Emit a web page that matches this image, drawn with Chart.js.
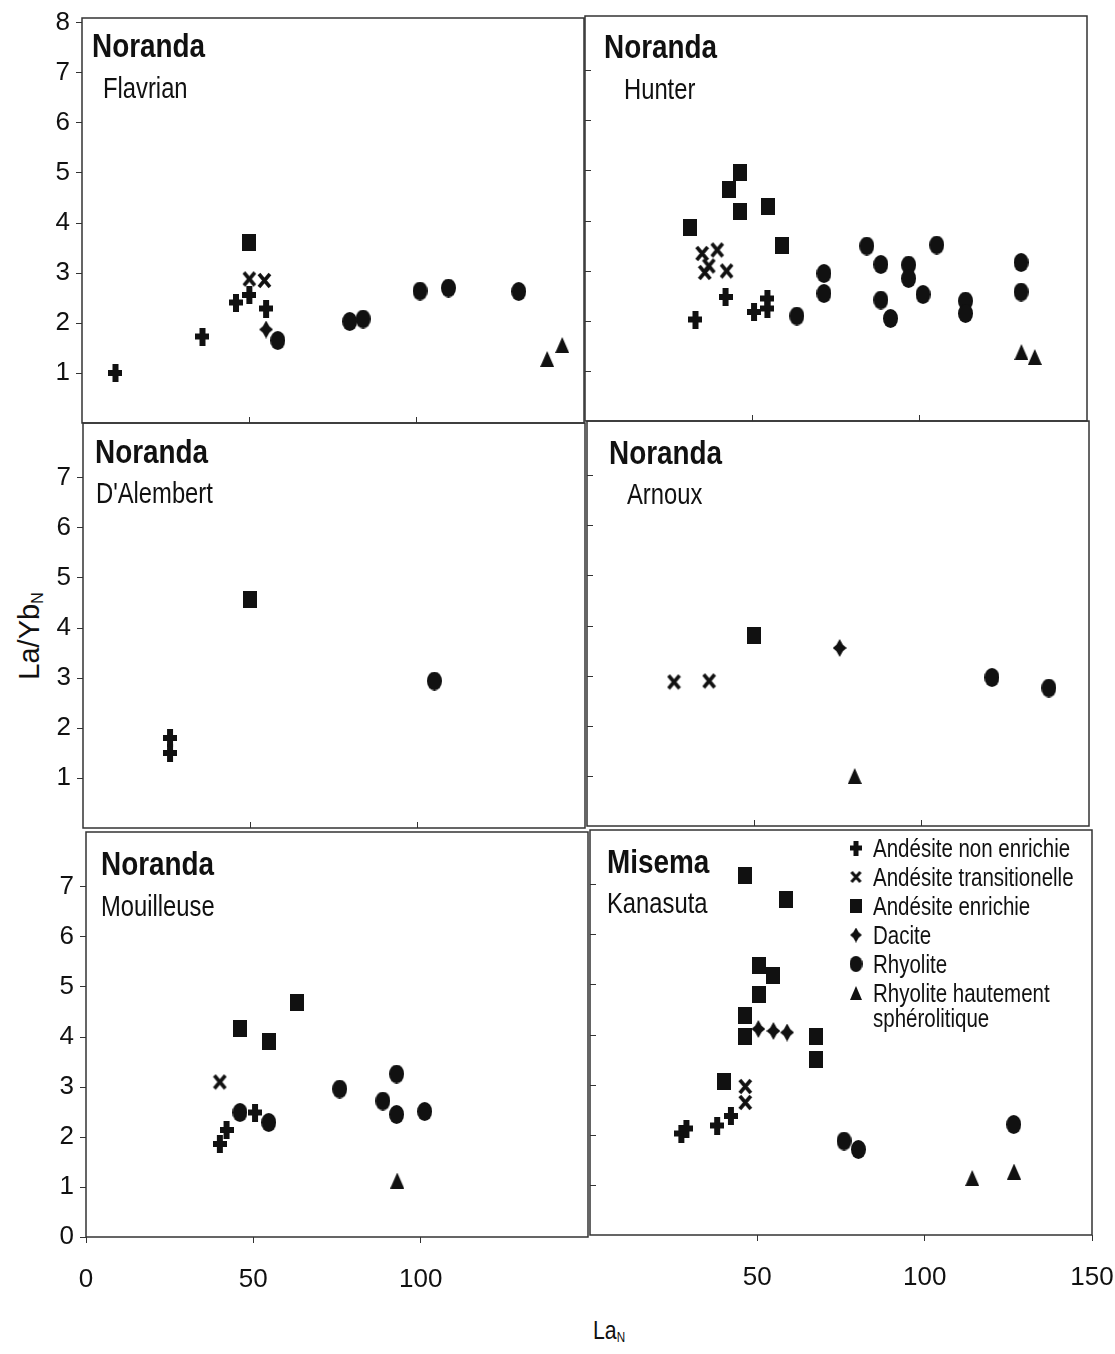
<!DOCTYPE html>
<html>
<head>
<meta charset="utf-8">
<title>La/YbN vs LaN</title>
<script src="https://cdn.jsdelivr.net/npm/chart.js@4.4.0/dist/chart.umd.min.js"></script>
<style>
    body { margin: 0; background: #fff; }
    #figure { position: relative; width: 1115px; height: 1354px; overflow: hidden; background: #fff; }
    #figure canvas { position: absolute; }
    .axis-title { position: absolute; color: #111; white-space: nowrap; line-height: 1; font-family: 'Liberation Sans', Arial, sans-serif; -webkit-font-smoothing: antialiased; }
    .axis-title sub { font-size: 55%; vertical-align: -0.25em; color: #111; }
    #yTitle { font-size: 29px; left: 30px; top: 636px; transform: translate(-50%, -50%) rotate(-90deg); }
    #xTitle { font-size: 25px; left: 593px; top: 1318px; transform: scaleX(0.85); transform-origin: left top; }
</style>
</head>
<body>
<div id="figure">
    <div class="axis-title" id="yTitle">La/Yb<sub>N</sub></div>
    <div class="axis-title" id="xTitle">La<sub>N</sub></div>
</div>
<script>
/*
 * La/Yb(N) en fonction de La(N) - six secteurs (Noranda, Misema)
 * Chaque panneau est un graphique Chart.js de type scatter
 */

// Types de roche (légende)
const rockTypes = ['Andésite non enrichie', 'Andésite transitionelle', 'Andésite enrichie', 'Dacite', 'Rhyolite', 'Rhyolite hautement sphérolitique'];
const legendLines = [['Andésite non enrichie'], ['Andésite transitionelle'], ['Andésite enrichie'], ['Dacite'], ['Rhyolite'], ['Rhyolite hautement', 'sphérolitique']];

// Graduations
const xTicksLeft = [0, 50, 100];
const xTicksRight = [50, 100, 150];
const xTickMarks = [50, 100];
const yTicksTop = [1, 2, 3, 4, 5, 6, 7, 8];
const yTicksMiddle = [1, 2, 3, 4, 5, 6, 7];
const yTicksBottom = [0, 1, 2, 3, 4, 5, 6, 7];
const yTickMarks = [1, 2, 3, 4, 5, 6, 7];

// Noranda - Flavrian  [La_N, La/Yb_N]
const flavrianNonEnrichie = [[10, 1.0], [36, 1.73], [46, 2.41], [50, 2.56], [55, 2.29]];
const flavrianTransit = [[50, 2.88], [54.5, 2.85]];
const flavrianEnrichie = [[50, 3.61]];
const flavrianDacite = [[55, 1.87]];
const flavrianRhyolite = [[58.5, 1.65], [80, 2.03], [84, 2.08], [101, 2.64], [109.5, 2.7], [130.5, 2.63]];
const flavrianSpherol = [[139, 1.28], [143.5, 1.56]];

// Noranda - Hunter
const hunterNonEnrichie = [[33, 2.03], [42, 2.48], [50.5, 2.18], [54.5, 2.45], [54.5, 2.25]];
const hunterTransit = [[35, 3.35], [39.5, 3.42], [35.8, 2.97], [37, 3.1], [42.3, 3.0]];
const hunterEnrichie = [[31.5, 3.87], [43, 4.63], [46.2, 4.98], [46.2, 4.2], [54.7, 4.3], [59, 3.52]];
const hunterDacite = [];
const hunterRhyolite = [[63.3, 2.1], [71.4, 2.95], [71.4, 2.55], [84.2, 3.5], [88.4, 3.13], [88.4, 2.42], [91.3, 2.05], [96.7, 3.12], [96.7, 2.85], [101, 2.53], [105.1, 3.52], [113.7, 2.4], [113.7, 2.15], [130.3, 3.17], [130.3, 2.58]];
const hunterSpherol = [[130.4, 1.38], [134.4, 1.28]];

// Noranda - D'Alembert
const dalembertNonEnrichie = [[26, 1.8], [26, 1.5]];
const dalembertEnrichie = [[50, 4.57]];
const dalembertRhyolite = [[105, 2.94]];

// Noranda - Arnoux
const arnouxTransit = [[26, 2.88], [36.5, 2.9]];
const arnouxEnrichie = [[50, 3.82]];
const arnouxDacite = [[75.5, 3.56]];
const arnouxRhyolite = [[121, 2.97], [138, 2.76]];
const arnouxSpherol = [[80, 1.0]];

// Noranda - Mouilleuse
const mouilleuseNonEnrichie = [[40, 1.86], [42, 2.14], [50.5, 2.49]];
const mouilleuseTransit = [[40, 3.1]];
const mouilleuseEnrichie = [[46, 4.17], [54.6, 3.91], [62.9, 4.69]];
const mouilleuseRhyolite = [[46, 2.49], [54.6, 2.29], [75.8, 2.96], [88.7, 2.72], [92.8, 3.26], [92.8, 2.45], [101.2, 2.51]];
const mouilleuseSpherol = [[93, 1.13]];

// Misema - Kanasuta
const kanasutaNonEnrichie = [[27.3, 2.03], [28.8, 2.13], [38, 2.19], [42.1, 2.38]];
const kanasutaTransit = [[46.4, 2.97], [46.4, 2.65]];
const kanasutaEnrichie = [[46.2, 7.19], [58.7, 6.71], [50.5, 5.4], [54.8, 5.2], [50.5, 4.81], [46.4, 4.4], [46.4, 3.97], [67.4, 3.97], [67.4, 3.52], [39.9, 3.07]];
const kanasutaDacite = [[50.3, 4.12], [54.8, 4.08], [58.9, 4.05]];
const kanasutaRhyolite = [[75.9, 1.88], [80.2, 1.71], [126.6, 2.21]];
const kanasutaSpherol = [[114.2, 1.14], [126.7, 1.27]];

// Styles et mise en page
const INK = '#111';
const FONT = "'Liberation Sans', Arial, sans-serif";
const NARROW = 0.82;  // compression horizontale (police étroite)
const PANEL_W = 502;
const PANEL_H = 405;
const GUTTER = 80;    // espace réservé à l'axe Y
const PAD_T = 16;
const PAD_R = 26;

const panels = [
    { region: 'Noranda', site: 'Flavrian', left: 82, top: 18, row: 0, col: 0, labelDx: [10, 21], labelDy: [39, 80],
      series: [flavrianNonEnrichie, flavrianTransit, flavrianEnrichie, flavrianDacite, flavrianRhyolite, flavrianSpherol] },
    { region: 'Noranda', site: 'Hunter', left: 585, top: 16, row: 0, col: 1, labelDx: [19, 39], labelDy: [42, 83],
      series: [hunterNonEnrichie, hunterTransit, hunterEnrichie, hunterDacite, hunterRhyolite, hunterSpherol] },
    { region: 'Noranda', site: "D'Alembert", left: 83, top: 423, row: 1, col: 0, labelDx: [12, 13], labelDy: [40, 80],
      series: [dalembertNonEnrichie, [], dalembertEnrichie, [], dalembertRhyolite, []] },
    { region: 'Noranda', site: 'Arnoux', left: 587, top: 421, row: 1, col: 1, labelDx: [22, 40], labelDy: [43, 83],
      series: [[], arnouxTransit, arnouxEnrichie, arnouxDacite, arnouxRhyolite, arnouxSpherol] },
    { region: 'Noranda', site: 'Mouilleuse', left: 86, top: 832, row: 2, col: 0, labelDx: [15, 15], labelDy: [43, 84],
      series: [mouilleuseNonEnrichie, mouilleuseTransit, mouilleuseEnrichie, [], mouilleuseRhyolite, mouilleuseSpherol] },
    { region: 'Misema', site: 'Kanasuta', left: 590, top: 830, row: 2, col: 1, labelDx: [17, 17], labelDy: [43, 83], legend: true,
      series: [kanasutaNonEnrichie, kanasutaTransit, kanasutaEnrichie, kanasutaDacite, kanasutaRhyolite, kanasutaSpherol] }
];

/**
 * Crée un symbole (canvas) utilisé comme pointStyle
 */
function makeMarker(kind, scale = 1) {
    const sizes = { plus: [14, 18], cross: [15, 17], square: [14, 17], star: [14, 18], circle: [15, 19], triangle: [14, 16] };
    const w = Math.round(sizes[kind][0] * scale);
    const h = Math.round(sizes[kind][1] * scale);
    const c = document.createElement('canvas');
    c.width = w;
    c.height = h;
    const g = c.getContext('2d');
    g.fillStyle = INK;
    g.strokeStyle = INK;
    const t = Math.max(4, Math.round(6 * scale)); // épaisseur de la croix

    switch (kind) {
        case 'plus':
            g.fillRect(0, (h - t) / 2, w, t);
            g.fillRect((w - t) / 2, 0, t, h);
            break;
        case 'cross':
            g.lineWidth = 3.6 * scale;
            g.beginPath();
            g.moveTo(2, 2); g.lineTo(w - 2, h - 2);
            g.moveTo(w - 2, 2); g.lineTo(2, h - 2);
            g.stroke();
            break;
        case 'square':
            g.fillRect(0, 0, w, h);
            break;
        case 'star': {
            // étoile à quatre branches (dacite)
            const cx = w / 2, cy = h / 2, k = 3.2 * scale;
            g.beginPath();
            g.moveTo(cx, 0);
            g.lineTo(cx + k, cy - k);
            g.lineTo(w, cy);
            g.lineTo(cx + k, cy + k);
            g.lineTo(cx, h);
            g.lineTo(cx - k, cy + k);
            g.lineTo(0, cy);
            g.lineTo(cx - k, cy - k);
            g.closePath();
            g.fill();
            break;
        }
        case 'circle':
            g.beginPath();
            g.ellipse(w / 2, h / 2, w / 2, h / 2, 0, 0, Math.PI * 2);
            g.fill();
            break;
        case 'triangle':
            g.beginPath();
            g.moveTo(w / 2, 0);
            g.lineTo(w, h);
            g.lineTo(0, h);
            g.closePath();
            g.fill();
            break;
    }
    return c;
}

const markerKinds = ['plus', 'cross', 'square', 'star', 'circle', 'triangle'];
const markers = markerKinds.map(k => makeMarker(k));
const legendMarkers = markerKinds.map(k => makeMarker(k, 0.85));

// Texte condensé (imite une police étroite)
function narrowText(ctx, txt, x, y) {
    ctx.save();
    ctx.translate(x, y);
    ctx.scale(NARROW, 1);
    ctx.fillText(txt, 0, 0);
    ctx.restore();
}

// Cadre complet autour de la zone du graphique
const framePlugin = {
    id: 'panelFrame',
    afterDatasetsDraw(chart) {
        const { ctx, chartArea: a } = chart;
        ctx.save();
        ctx.strokeStyle = '#333';
        ctx.lineWidth = 1.5;
        ctx.strokeRect(a.left, a.top, a.right - a.left, a.bottom - a.top);
        ctx.restore();
    }
};

// Nom de la région et du secteur dans le coin du panneau
const panelLabelPlugin = {
    id: 'panelLabel',
    afterDatasetsDraw(chart, args, opts) {
        const { ctx, chartArea: a } = chart;
        ctx.save();
        ctx.fillStyle = INK;
        ctx.textBaseline = 'alphabetic';
        ctx.font = 'bold 34px ' + FONT;
        narrowText(ctx, opts.region, a.left + opts.dx[0], a.top + opts.dy[0]);
        ctx.font = '29px ' + FONT;
        narrowText(ctx, opts.site, a.left + opts.dx[1], a.top + opts.dy[1]);
        ctx.restore();
    }
};

// Légende dessinée dans le panneau Kanasuta
const rockLegendPlugin = {
    id: 'rockLegend',
    afterDatasetsDraw(chart, args, opts) {
        if (!opts.display) return;
        const { ctx, chartArea: a } = chart;
        const symX = a.left + 266;
        const textX = a.left + 283;
        let y = a.top + 18;
        ctx.save();
        ctx.fillStyle = INK;
        ctx.font = '25px ' + FONT;
        ctx.textBaseline = 'alphabetic';
        legendLines.forEach((lines, i) => {
            const m = legendMarkers[i];
            ctx.drawImage(m, symX - m.width / 2, y - m.height / 2);
            lines.forEach((txt, j) => narrowText(ctx, txt, textX, y + 9 + j * 25));
            y += 29;
        });
        ctx.restore();
    }
};

function fixedTicks(values) {
    return function (scale) {
        scale.ticks = values.map(v => ({ value: v }));
    };
}

function buildPanel(p) {
    const figure = document.getElementById('figure');
    const bottomRow = p.row === 2;
    const leftCol = p.col === 0;
    const xAxisH = bottomRow ? 64 : 14;

    const canvas = document.createElement('canvas');
    canvas.width = GUTTER + PANEL_W + PAD_R;
    canvas.height = PAD_T + PANEL_H + xAxisH;
    canvas.style.left = (p.left - GUTTER) + 'px';
    canvas.style.top = (p.top - PAD_T) + 'px';
    figure.appendChild(canvas);

    let xTicks = xTickMarks;
    if (bottomRow) xTicks = leftCol ? xTicksLeft : xTicksRight;
    let yTicks = yTickMarks;
    if (leftCol) yTicks = [yTicksTop, yTicksMiddle, yTicksBottom][p.row];

    new Chart(canvas, {
        type: 'scatter',
        data: {
            datasets: p.series.map((pts, i) => ({
                label: rockTypes[i],
                data: pts.map(([x, y]) => ({ x: x, y: y })),
                pointStyle: markers[i],
                pointRadius: 7,
                pointHoverRadius: 7
            }))
        },
        options: {
            responsive: false,
            animation: false,
            devicePixelRatio: 1,
            events: [],
            layout: { padding: { top: PAD_T, right: PAD_R, left: 0, bottom: 0 } },
            plugins: {
                legend: { display: false },
                tooltip: { enabled: false },
                panelLabel: { region: p.region, site: p.site, dx: p.labelDx, dy: p.labelDy },
                rockLegend: { display: !!p.legend }
            },
            scales: {
                x: {
                    type: 'linear',
                    min: 0,
                    max: 150,
                    afterBuildTicks: fixedTicks(xTicks),
                    afterFit: function (scale) {
                        scale.height = xAxisH;
                        scale.paddingLeft = 0;
                        scale.paddingRight = 0;
                    },
                    border: { display: false },
                    grid: { drawOnChartArea: false, drawTicks: true, tickLength: bottomRow ? 6 : -6, color: '#333', lineWidth: 1 },
                    ticks: { display: bottomRow, autoSkip: false, maxRotation: 0, padding: 21, color: INK, font: { family: FONT, size: 26 } }
                },
                y: {
                    type: 'linear',
                    min: 0,
                    max: 8.1,
                    afterBuildTicks: fixedTicks(yTicks),
                    afterFit: function (scale) {
                        scale.width = GUTTER;
                        scale.paddingTop = 0;
                        scale.paddingBottom = 0;
                    },
                    border: { display: false },
                    grid: { drawOnChartArea: false, drawTicks: true, tickLength: leftCol ? 6 : -6, color: '#333', lineWidth: 1 },
                    ticks: { display: leftCol, autoSkip: false, padding: 6, color: INK, font: { family: FONT, size: 26 } }
                }
            }
        },
        plugins: [framePlugin, panelLabelPlugin, rockLegendPlugin]
    });
}

panels.forEach(buildPanel);
</script>
</body>
</html>
